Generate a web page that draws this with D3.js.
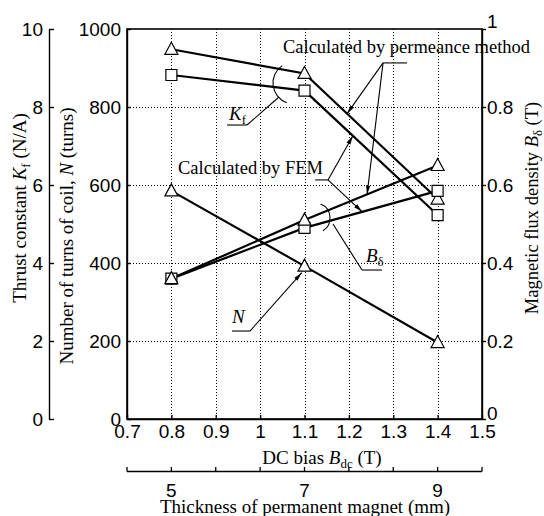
<!DOCTYPE html>
<html>
<head>
<meta charset="utf-8">
<script src="https://cdn.jsdelivr.net/npm/d3@7"></script>
<style>
body { margin: 0; background: #fff; }
text { fill: #000; }
</style>
</head>
<body>
<div id="chart"></div>
<script>
// values
var bias = [0.8, 1.1, 1.4];              // DC bias B_dc (T)
var thickness = [5, 7, 9];               // thickness of permanent magnet (mm)
var kfPermeance = [9.48, 8.86, 5.64];    // thrust constant, triangles
var kfFem = [8.82, 8.42, 5.23];          // thrust constant, squares
var bPermeance = [0.36, 0.51, 0.65];     // flux density, triangles
var bFem = [0.36, 0.49, 0.585];          // flux density, squares
var turns = [585, 392, 196];             // number of turns, triangles

var biasTicks = [0.7, 0.8, 0.9, 1, 1.1, 1.2, 1.3, 1.4, 1.5];
var turnTicks = [0, 200, 400, 600, 800, 1000];
var kfTicks = [0, 2, 4, 6, 8, 10];
var bTicks = [0, 0.2, 0.4, 0.6, 0.8, 1];
var thickLabels = [5, 7, 9];

var W = 544, H = 516;
var sans = "'Liberation Sans', Arial, sans-serif";
var serif = "'Liberation Serif', 'Times New Roman', serif";

var svg = d3.select("#chart")
	.append("svg")
	.attr("width", W)
	.attr("height", H);

var mLeft = 127, mRight = 482, mTop = 29, mBottom = 419;

var x = d3.scaleLinear().domain([0.7, 1.5]).range([mLeft, mRight]);
var yN = d3.scaleLinear().domain([0, 1000]).range([mBottom, mTop]);
var yK = d3.scaleLinear().domain([0, 10]).range([mBottom, mTop]);
var yB = d3.scaleLinear().domain([0, 1]).range([mBottom, mTop]);
var xT = d3.scaleLinear().domain([thickness[0], thickness[2]]).range([x(bias[0]), x(bias[2])]);

// arrow head
svg.append("defs").append("marker")
	.attr("id", "arrow")
	.attr("viewBox", "0 0 10 10")
	.attr("refX", 10).attr("refY", 5)
	.attr("markerWidth", 9).attr("markerHeight", 9)
	.attr("markerUnits", "userSpaceOnUse")
	.attr("orient", "auto")
	.append("path")
	.attr("d", "M0,2.6 L10,5 L0,7.4 Z")
	.attr("fill", "#000");

// dotted grid
var grid = svg.append("g").attr("stroke", "#000").attr("stroke-width", 1).attr("stroke-dasharray", "1,2");
grid.selectAll(".gx").data(biasTicks.slice(1, -1)).enter()
	.append("line")
	.attr("x1", function(d){ return Math.round(x(d)) + 0.5; })
	.attr("x2", function(d){ return Math.round(x(d)) + 0.5; })
	.attr("y1", mTop).attr("y2", mBottom);
grid.selectAll(".gy").data(turnTicks.slice(1, -1)).enter()
	.append("line")
	.attr("y1", function(d){ return Math.round(yN(d)) + 0.5; })
	.attr("y2", function(d){ return Math.round(yN(d)) + 0.5; })
	.attr("x1", mLeft).attr("x2", mRight);

// axes
function styleAxis(g) {
	g.selectAll("path, line").attr("stroke", "#000").attr("stroke-width", 1.4);
	g.selectAll("text").style("font-family", sans).style("font-size", "19px").attr("fill", "#000");
}

svg.append("g")
	.attr("transform", "translate(" + mLeft + ",0)")
	.call(d3.axisLeft(yN).tickValues(turnTicks).tickSizeInner(-4).tickSizeOuter(0).tickPadding(6).tickFormat(d3.format("d")))
	.call(styleAxis);

svg.append("g")
	.attr("transform", "translate(49,0)")
	.call(d3.axisLeft(yK).tickValues(kfTicks).tickSizeInner(-5).tickSizeOuter(0).tickPadding(6))
	.call(styleAxis);

var bAxis = svg.append("g")
	.attr("transform", "translate(" + mRight + ",0)")
	.call(d3.axisRight(yB).tickValues(bTicks).tickSizeInner(4).tickSizeOuter(0).tickPadding(1).tickFormat(d3.format("~g")))
	.call(styleAxis);
bAxis.selectAll(".tick text").attr("dy", function(d){ return d == 1 ? "-0.1em" : (d == 0 ? "0" : "0.32em"); });

svg.append("g")
	.attr("transform", "translate(0," + mBottom + ")")
	.call(d3.axisBottom(x).tickValues(biasTicks).tickSizeInner(-4).tickSizeOuter(0).tickPadding(6).tickFormat(d3.format("~g")))
	.call(styleAxis);

// frame
svg.append("rect")
	.attr("x", mLeft).attr("y", mTop)
	.attr("width", mRight - mLeft).attr("height", mBottom - mTop)
	.attr("fill", "none").attr("stroke", "#000").attr("stroke-width", 1.6);

// second bottom axis: thickness, one tick per 0.1 T of bias
var tAxisY = 471.5;
var tAxis = svg.append("g").attr("stroke", "#000").attr("stroke-width", 1.3);
tAxis.append("line")
	.attr("x1", mLeft).attr("x2", mRight)
	.attr("y1", tAxisY).attr("y2", tAxisY);
tAxis.selectAll(null).data(biasTicks).enter()
	.append("line")
	.attr("x1", function(d){ return x(d); })
	.attr("x2", function(d){ return x(d); })
	.attr("y1", tAxisY).attr("y2", tAxisY - 4.5);
svg.selectAll(null).data(thickLabels).enter()
	.append("text")
	.attr("x", function(d){ return xT(d); })
	.attr("y", 497)
	.attr("text-anchor", "middle")
	.style("font-family", sans).style("font-size", "19px")
	.text(function(d){ return d; });

// series
var series = [
	{vals: kfPermeance, scale: yK, mark: "tri"},
	{vals: kfFem, scale: yK, mark: "sq"},
	{vals: bFem, scale: yB, mark: "sq"},
	{vals: bPermeance, scale: yB, mark: "tri"},
	{vals: turns, scale: yN, mark: "tri"}
];

series.forEach(function(s){
	var line = d3.line()
		.x(function(d, i){ return x(bias[i]); })
		.y(function(d){ return s.scale(d); });
	svg.append("path")
		.attr("d", line(s.vals))
		.attr("fill", "none")
		.attr("stroke", "#000")
		.attr("stroke-width", 2.2);
});

series.forEach(function(s){
	svg.selectAll(null).data(s.vals).enter()
		.append("path")
		.attr("transform", function(d, i){ return "translate(" + x(bias[i]) + "," + s.scale(d) + ")"; })
		.attr("d", s.mark == "tri" ? "M0,-7 L6.5,5 L-6.5,5 Z" : "M-5.5,-5.5 H5.5 V5.5 H-5.5 Z")
		.attr("fill", "#fff")
		.attr("stroke", "#000")
		.attr("stroke-width", 1.2);
});

// annotations (placed in bias / turns units)
function P(b, n){ return [x(b), yN(n)]; }
function onLine(vals, scale, b){
	var i = b < bias[1] ? 0 : 1;
	var t = (b - bias[i]) / (bias[i + 1] - bias[i]);
	return [x(b), scale(vals[i] + t * (vals[i + 1] - vals[i]))];
}
var ann = svg.append("g").attr("stroke", "#000").attr("stroke-width", 1.1).attr("fill", "none");
function seg(a, b, arrow){
	var l = ann.append("line")
		.attr("x1", a[0]).attr("y1", a[1])
		.attr("x2", b[0]).attr("y2", b[1]);
	if(arrow) l.attr("marker-end", "url(#arrow)");
}
function arc(c, r, a0, a1){
	var p = d3.path();
	p.arc(c[0], c[1], r, a0 * Math.PI / 180, a1 * Math.PI / 180);
	ann.append("path").attr("d", p.toString());
}

// permeance method
var pv = P(1.277, 913);
seg(pv, P(1.331, 913));
seg(pv, onLine(kfPermeance, yK, 1.196), true);
seg(pv, onLine(bPermeance, yB, 1.241), true);

// FEM
var fv = P(1.153, 613);
seg(P(1.124, 613), fv);
seg(fv, onLine(kfFem, yK, 1.209), true);
seg(fv, onLine(bFem, yB, 1.23), true);

// Kf callout
arc(P(1.0763, 861.5), 21, 110, 236);
seg(P(1.0425, 825.6), P(0.9704, 753.8));
seg(P(0.9704, 753.8), P(0.9254, 753.8));

// B callout
arc(P(1.1237, 515.4), 15, -68, 58);
seg(P(1.1642, 500), P(1.2296, 382));
seg(P(1.2296, 382), P(1.2746, 382));

// N callout
seg(P(0.9366, 225.6), P(0.9772, 225.6));
seg(P(0.9772, 225.6), onLine(turns, yN, 1.094).map(function(v, i){ return i ? v + 8 : v; }), true);

function label(pos, size, parts, anchor, rot){
	var t = svg.append("text")
		.attr("text-anchor", anchor || "start")
		.style("font-family", serif)
		.style("font-size", size + "px");
	if(rot) t.attr("transform", "translate(" + pos[0] + "," + pos[1] + ") rotate(" + rot + ")");
	else t.attr("x", pos[0]).attr("y", pos[1]);
	parts.forEach(function(p){
		var s = t.append("tspan").text(p.t);
		if(p.i) s.style("font-style", "italic");
		if(p.sub) s.attr("dy", 4).style("font-size", (size * 0.68) + "px");
		if(p.up) s.attr("dy", -4);
	});
	return t;
}

label(P(1.0515, 938.5), 18.5, [{t: "Calculated by permeance method"}]);
label(P(0.815, 628), 18.5, [{t: "Calculated by FEM"}]);
label(P(0.9299, 766.7), 19, [{t: "K", i: true}, {t: "f", sub: true}]);
label(P(1.2386, 402.6), 19, [{t: "B", i: true}, {t: "δ", sub: true}]);
label(P(0.9366, 246), 19, [{t: "N", i: true}]);

// axis titles
label([322, 464], 19, [{t: "DC bias "}, {t: "B", i: true}, {t: "dc", sub: true}, {t: " (T)", up: true}], "middle");
label([305, 513], 19, [{t: "Thickness of permanent magnet (mm)"}], "middle");
label([26, 208], 19, [{t: "Thrust constant "}, {t: "K", i: true}, {t: "f", sub: true}, {t: " (N/A)", up: true}], "middle", -90);
label([73, 236], 19, [{t: "Number of turns of coil, "}, {t: "N", i: true}, {t: " (turns)"}], "middle", -90);
label([538, 208], 18.5, [{t: "Magnetic flux density "}, {t: "B", i: true}, {t: "δ", sub: true}, {t: " (T)", up: true}], "middle", -90);
</script>
</body>
</html>
